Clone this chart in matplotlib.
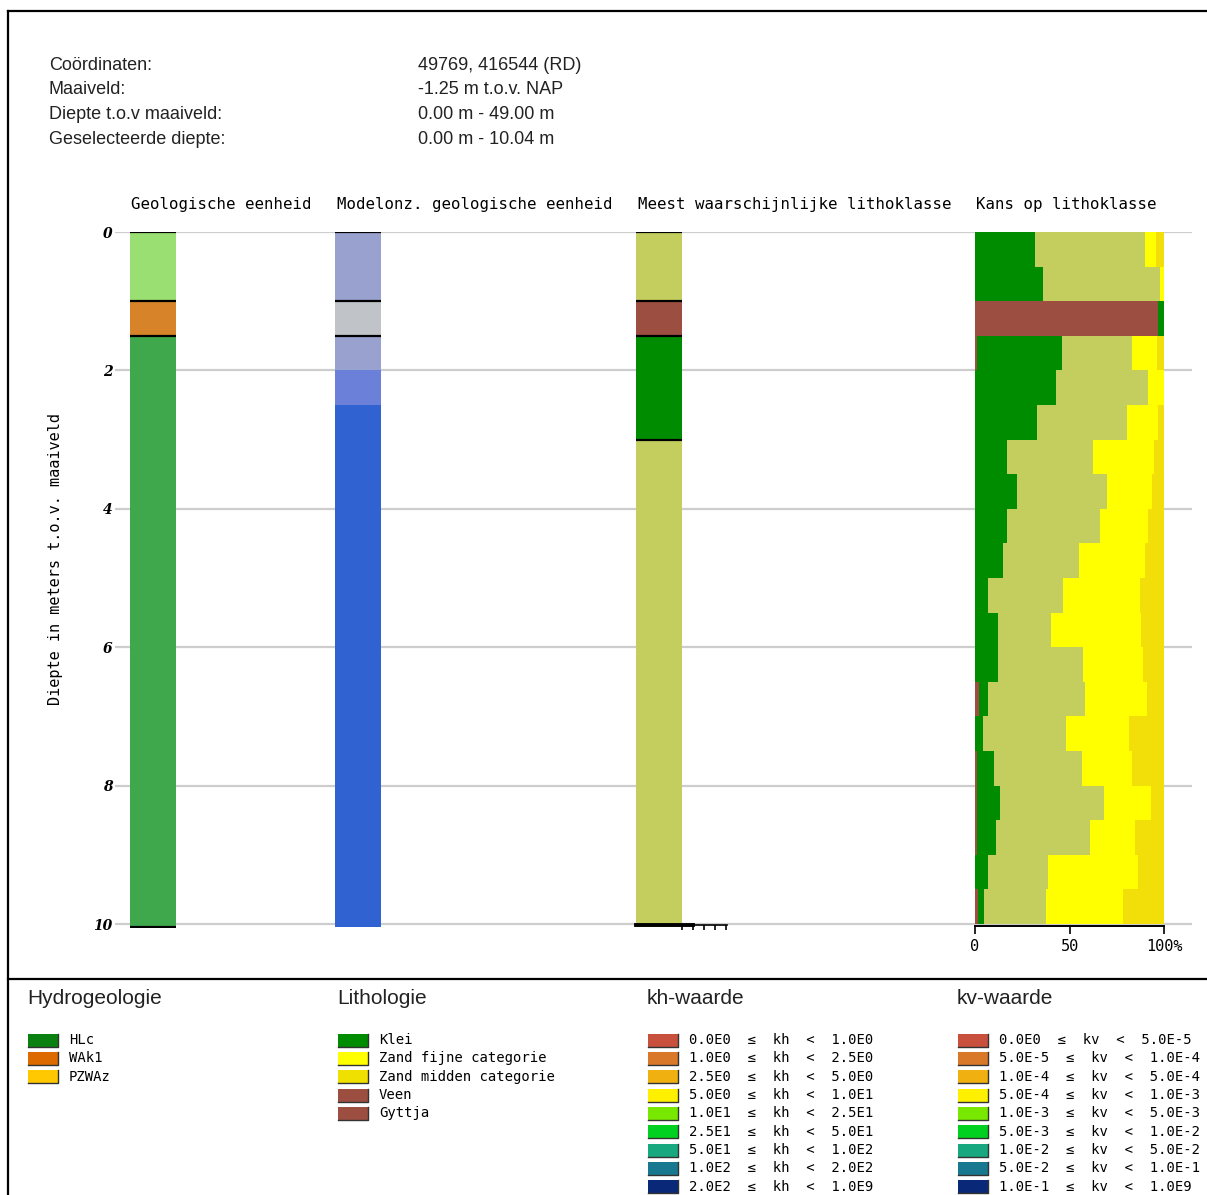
import matplotlib
matplotlib.use("Agg")
import matplotlib.pyplot as plt
from matplotlib.lines import Line2D
from matplotlib.patches import Rectangle

W, H = 1207, 1195
MONO = "DejaVu Sans Mono"
SANS = "Liberation Sans"

# ── header info ──────────────────────────────────────────────────────────
info_keys = ["Coördinaten:", "Maaiveld:", "Diepte t.o.v maaiveld:", "Geselecteerde diepte:"]
info_vals = ["49769, 416544 (RD)", "-1.25 m t.o.v. NAP", "0.00 m - 49.00 m", "0.00 m - 10.04 m"]

# ── column data (depth in m below surface) ──────────────────────────────
col_titles = ["Geologische eenheid", "Modelonz. geologische eenheid",
              "Meest waarschijnlijke lithoklasse", "Kans op lithoklasse"]

geo_top = [0.0, 1.0, 1.5]
geo_bot = [1.0, 1.5, 10.04]
geo_colors = ["#9ADF71", "#D6832A", "#3FA84D"]

unc_top = [0.0, 1.0, 1.5, 2.0, 2.5]
unc_bot = [1.0, 1.5, 2.0, 2.5, 10.04]
unc_colors = ["#99A1CE", "#C0C3C8", "#99A1CE", "#6B80D9", "#3162D2"]

lith_top = [0.0, 1.0, 1.5, 3.0]
lith_bot = [1.0, 1.5, 3.0, 10.04]
lith_colors = ["#C3CE5F", "#9C4E40", "#008C00", "#C3CE5F"]

# probability per 0.5 m voxel (%)
prob_top = [0.0, 0.5, 1.0, 1.5, 2.0, 2.5, 3.0, 3.5, 4.0, 4.5,
            5.0, 5.5, 6.0, 6.5, 7.0, 7.5, 8.0, 8.5, 9.0, 9.5]
p_veen = [0, 0, 97, 1, 0, 0, 0, 0, 0, 0, 0, 0, 0, 2, 0, 1, 1, 1, 0, 1.5]
p_klei = [32, 36, 3, 45, 43, 33, 17, 22, 17, 15, 7, 12, 12, 5, 4, 9, 12, 10, 7, 3]
p_kleiig = [58, 62, 0, 37, 48.5, 47.5, 45.5, 48, 49, 40, 39.5, 28, 45, 51, 44, 46.5, 55, 50, 31.5, 33]
p_fijn = [6, 2, 0, 13.5, 8.5, 16.5, 32, 23.5, 25.5, 35, 41, 48, 32, 33, 33.5, 26.5, 25, 23.5, 48, 41]
p_midden = [4, 0, 0, 3.5, 0, 3, 5.5, 6.5, 8.5, 10, 12.5, 12, 11, 9, 18.5, 17, 7, 15.5, 13.5, 21.5]
prob_series = [p_veen, p_klei, p_kleiig, p_fijn, p_midden]
prob_colors = ["#9C4E40", "#008C00", "#C3CE5F", "#FFFF00", "#F2DF0A"]

y_ticks = [0, 2, 4, 6, 8, 10]

# ── legends ─────────────────────────────────────────────────────────────
hydro_labels = ["HLc", "WAk1", "PZWAz"]
hydro_colors = ["#0A8010", "#DC6A00", "#FFC800"]
lith_labels = ["Klei", "Zand fijne categorie", "Zand midden categorie", "Veen", "Gyttja"]
lith_leg_colors = ["#008C00", "#FFFF00", "#F0E000", "#9C4E40", "#9C4E40"]
k_colors = ["#C8503C", "#D87828", "#F0B010", "#FFF000", "#78E800",
            "#00D020", "#18A880", "#187890", "#0A2878"]
kh_low = ["0.0E0", "1.0E0", "2.5E0", "5.0E0", "1.0E1", "2.5E1", "5.0E1", "1.0E2", "2.0E2"]
kh_high = ["1.0E0", "2.5E0", "5.0E0", "1.0E1", "2.5E1", "5.0E1", "1.0E2", "2.0E2", "1.0E9"]
kv_low = ["0.0E0", "5.0E-5", "1.0E-4", "5.0E-4", "1.0E-3", "5.0E-3", "1.0E-2", "5.0E-2", "1.0E-1"]
kv_high = ["5.0E-5", "1.0E-4", "5.0E-4", "1.0E-3", "5.0E-3", "1.0E-2", "5.0E-2", "1.0E-1", "1.0E9"]


def fx(px):
    return px / W


def fy(py):
    return 1 - py / H


fig = plt.figure(figsize=(W / 100, H / 100), dpi=100)

# frame
for xs, ys in [([8, 8], [11, H]), ([8, W], [11, 11]), ([8, W], [979, 979])]:
    fig.add_artist(Line2D([fx(x) for x in xs], [fy(y) for y in ys],
                          color="black", lw=1.6))

# header
for i, (k, v) in enumerate(zip(info_keys, info_vals)):
    y = 65 + i * 24.7
    fig.text(fx(49), fy(y), k, family=SANS, fontsize=13, va="center", color="#222222")
    fig.text(fx(418), fy(y), v, family=SANS, fontsize=13, va="center", color="#222222")

# main depth axis (x in pixel units for layout)
Y0, Y1 = 232, 927.5
ax = fig.add_axes([fx(115), fy(Y1), fx(1192) - fx(115), fy(Y0) - fy(Y1)])
ax.set_xlim(115, 1192)
ax.set_ylim(10.05, 0)
ax.set_yticks(y_ticks)
ax.set_yticklabels([str(t) for t in y_ticks], fontsize=10, fontweight="bold",
                   fontstyle="italic", family="DejaVu Serif")
ax.tick_params(axis="y", length=0, pad=2)
ax.set_xticks([])
ax.yaxis.grid(True, color="#CDCDCD", lw=1.6)
ax.set_axisbelow(True)
for s in ax.spines.values():
    s.set_visible(False)
ax.patch.set_alpha(0)

col_x = [152.5, 358, 659]
col_w = 46
for cx, tops, bots, cols in [(col_x[0], geo_top, geo_bot, geo_colors),
                             (col_x[1], unc_top, unc_bot, unc_colors),
                             (col_x[2], lith_top, lith_bot, lith_colors)]:
    ax.bar([cx] * len(tops), [b - t for t, b in zip(tops, bots)], bottom=tops,
           width=col_w, color=cols, linewidth=0, zorder=2)

# black layer boundaries
ax.hlines([0.0, 1.0, 1.5, 10.04], col_x[0] - 23, col_x[0] + 23, color="black", lw=1.6, zorder=3)
ax.hlines([0.0, 1.0, 1.5], col_x[1] - 23, col_x[1] + 23, color="black", lw=1.6, zorder=3)
ax.hlines([0.0, 1.0, 1.5, 3.0], col_x[2] - 23, col_x[2] + 23, color="black", lw=1.6, zorder=3)
ax.plot([636, 693], [10.02, 10.02], color="black", lw=2.8, zorder=3, clip_on=False)
ax.plot([681, 727], [10.02, 10.02], color="black", lw=1.2, zorder=3, clip_on=False)
ax.vlines([681.5, 692.5, 704, 715, 726], 10.02, 10.09, color="black", lw=1.2,
          zorder=3, clip_on=False)

fig.text(fx(56), fy(559), "Diepte in meters t.o.v. maaiveld", family=MONO, fontsize=11,
         rotation=90, ha="center", va="center")

# column titles
for t, x in zip(col_titles, [131, 337, 638, 976]):
    fig.text(fx(x), fy(204), t, family=MONO, fontsize=11.3, va="center")

# probability column
axp = fig.add_axes([fx(975), fy(Y1), fx(1164) - fx(975), fy(Y0) - fy(Y1)])
axp.set_xlim(0, 100)
axp.set_ylim(10.05, 0)
centers = [t + 0.25 for t in prob_top]
left = [0.0] * len(prob_top)
for vals, c in zip(prob_series, prob_colors):
    axp.barh(centers, vals, left=left, height=0.5, color=c, linewidth=0)
    left = [l + v for l, v in zip(left, vals)]
axp.patch.set_alpha(0)
for s in ["top", "right", "left"]:
    axp.spines[s].set_visible(False)
axp.spines["bottom"].set_position(("data", 10.03))
axp.spines["bottom"].set_linewidth(1.4)
axp.set_yticks([])
axp.set_xticks([0, 50, 100])
axp.set_xticklabels(["0", "50", "100%"], family=MONO, fontsize=11)
axp.tick_params(axis="x", length=6, width=1.2, pad=3)

# legends
lax = fig.add_axes([0, 0, 1, fy(979)])
lax.set_xlim(0, W)
lax.set_ylim(H, 979)
lax.axis("off")

leg_x = [28, 338, 648, 958]
leg_heads = ["Hydrogeologie", "Lithologie", "kh-waarde", "kv-waarde"]
kh_labels = [f"{lo}  ≤  kh  <  {hi}" for lo, hi in zip(kh_low, kh_high)]
kv_labels = [f"{lo}  ≤  kv  <  {hi}" for lo, hi in zip(kv_low, kv_high)]
groups = [(hydro_labels, hydro_colors), (lith_labels, lith_leg_colors),
          (kh_labels, k_colors), (kv_labels, k_colors)]

for x0, head, (labels, cols) in zip(leg_x, leg_heads, groups):
    lax.text(x0 - 1, 998, head, family=SANS, fontsize=15, va="center", color="#222222")
    for i, (lab, c) in enumerate(zip(labels, cols)):
        y = 1040 + i * 18.35
        lax.add_patch(Rectangle((x0, y - 6.5), 30, 13, facecolor=c, edgecolor="none"))
        lax.plot([x0, x0 + 30, x0 + 30], [y + 6.5, y + 6.5, y - 6.5], color="#333333", lw=1)
        lax.text(x0 + 41, y, lab, family=MONO, fontsize=10, va="center")

fig.savefig("out.png", dpi=100)
